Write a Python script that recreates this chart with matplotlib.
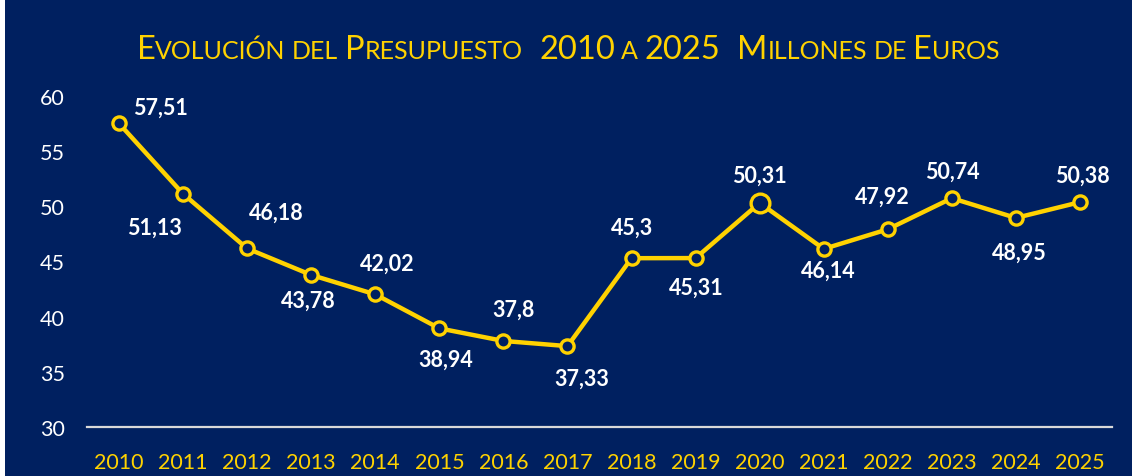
import matplotlib.pyplot as plt
from matplotlib.patches import Rectangle

years = [str(y) for y in range(2010, 2026)]
budget = [57.51, 51.13, 46.18, 43.78, 42.02, 38.94, 37.8, 37.33,
          45.3, 45.31, 50.31, 46.14, 47.92, 50.74, 48.95, 50.38]
labels = ["57,51", "51,13", "46,18", "43,78", "42,02", "38,94", "37,8", "37,33",
          "45,3", "45,31", "50,31", "46,14", "47,92", "50,74", "48,95", "50,38"]

# label offsets in pixels (dx, dy)
offsets = [(41, 16), (-29, -33), (29, 36), (-3, -25), (12, 31), (6, -31),
           (10, 32), (14, -32), (1, 31), (1, -29), (0, 28), (5, -21),
           (-5, 33), (1, 27), (3, -34), (2, 27)]

NAVY = '#002060'
YELLOW = '#FFD200'

plt.rcParams['font.family'] = ['Lato', 'DejaVu Sans']

fig = plt.figure(figsize=(11.32, 4.77), dpi=100)
fig.patch.set_facecolor('white')
fig.patches.append(Rectangle((5 / 1132, 0), 1, 1, transform=fig.transFigure,
                             facecolor=NAVY, edgecolor='none', zorder=-10))

ax = fig.add_axes([87 / 1132, 1 - 428 / 477, (1112 - 87) / 1132, (428 - 97) / 477])
ax.set_facecolor(NAVY)
ax.patch.set_alpha(0)

x = list(range(len(years)))
ax.plot(x, budget, color=YELLOW, lw=3.2, zorder=2, clip_on=False)
sizes = [9.5] * len(x)
sizes[10] = 13.5
for i in x:
    ax.plot(x[i], budget[i], 'o', ms=sizes[i], mfc=NAVY, mec=YELLOW, mew=2.4,
            zorder=3, clip_on=False)

for i in x:
    ax.annotate(labels[i], (x[i], budget[i]), xytext=offsets[i],
                textcoords='offset pixels', ha='center', va='center',
                color='white', fontsize=15.5, fontweight='bold')

ax.set_xlim(-0.5, len(years) - 0.5)
ax.set_ylim(30, 60)
ax.set_xticks(x)
ax.set_xticklabels(years, color=YELLOW, fontsize=15.5)
ax.set_yticks(range(30, 61, 5))
ax.set_yticklabels([str(v) for v in range(30, 61, 5)], color='white', fontsize=15.5)
ax.tick_params(axis='both', length=0)
ax.tick_params(axis='x', pad=18)
ax.tick_params(axis='y', pad=16)
for s in ['top', 'right', 'left']:
    ax.spines[s].set_visible(False)
ax.spines['bottom'].set_color('#D9D9D9')
ax.spines['bottom'].set_linewidth(1.6)

# small-caps style title built from pieces
BIG, SMALL = 23.5, 18
runs = [("E", BIG), ("VOLUCIÓN", SMALL), (" ", SMALL), ("DEL", SMALL), (" ", SMALL),
        ("P", BIG), ("RESUPUESTO", SMALL), (" ", BIG), (" ", BIG), ("2010", BIG),
        (" ", SMALL), ("A", SMALL), (" ", SMALL), ("2025", BIG), (" ", BIG), (" ", BIG),
        ("M", BIG), ("ILLONES", SMALL), (" ", SMALL), ("DE", SMALL), (" ", SMALL),
        ("E", BIG), ("UROS", SMALL)]
renderer = fig.canvas.get_renderer()


def text_width(s, size):
    t = fig.text(0, 0, s, fontsize=size)
    w = t.get_window_extent(renderer).width
    t.remove()
    return w


pieces = []
total = 0
for s, size in runs:
    if s == " ":
        w = text_width("x x", size) - text_width("xx", size)
    else:
        w = text_width(s, size)
    pieces.append((s, size, w))
    total += w

xpos = 568 - total / 2
ybase = 477 - 59
for s, size, w in pieces:
    if s != " ":
        fig.text(xpos / 1132, ybase / 477, s, fontsize=size, color=YELLOW,
                 ha='left', va='baseline')
    xpos += w

fig.savefig('out.png', dpi=100, facecolor=fig.get_facecolor())
